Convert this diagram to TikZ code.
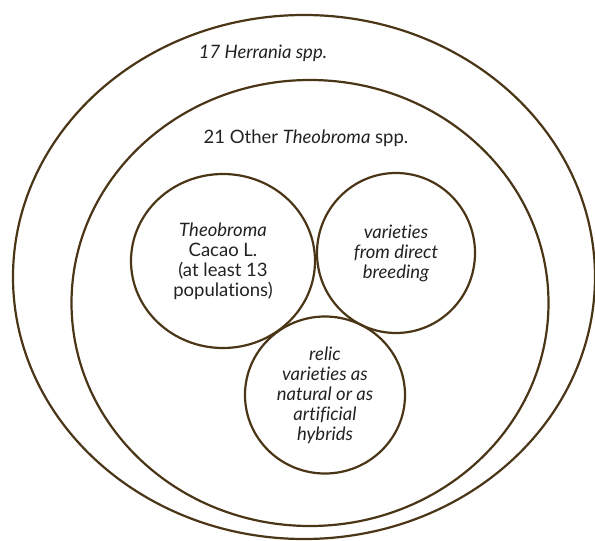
\documentclass[tikz,border=0pt]{standalone}
\usepackage{fontspec}
\setmainfont{Lato}[Ligatures=NoCommon]
\usetikzlibrary{shapes.geometric}
\definecolor{ring}{HTML}{4A3517}
\definecolor{txt}{HTML}{222222}
\tikzset{
  ring/.style={draw=ring, line width=2.2pt, ellipse, inner sep=0pt},
  lbl/.style={text=txt, font=\fontsize{18.5}{20}\selectfont, align=center, inner sep=0pt},
  itl/.style={font=\fontsize{18.5}{20}\selectfont\itshape},
}
\begin{document}
\begin{tikzpicture}[x=1pt,y=-1pt]
\useasboundingbox (0,0) rectangle (595,541);
\node[ring, minimum width=582, minimum height=524] (outer) at (304,277) {};
\node[ring, minimum width=477, minimum height=446] (inner) at (310,303) {};
\node[lbl, itl] (herr) at (263,53) {17 Herrania spp.};
\node[lbl] (theo) at (306,138) {21 Other \textit{Theobroma} spp.};
\node[ring, lbl, minimum width=184, minimum height=174] (cacao) at (223,261) {\textit{Theobroma}\\Cacao L.\\(at least 13\\populations)};
\node[ring, lbl, itl, minimum width=158, minimum height=160] (breed) at (396,253) {varieties\\from direct\\breeding};
\node[ring, lbl, itl, minimum width=160, minimum height=157] (relic) at (325,395) {relic\\varieties as\\natural or as\\artificial\\hybrids};
\end{tikzpicture}
\end{document}
